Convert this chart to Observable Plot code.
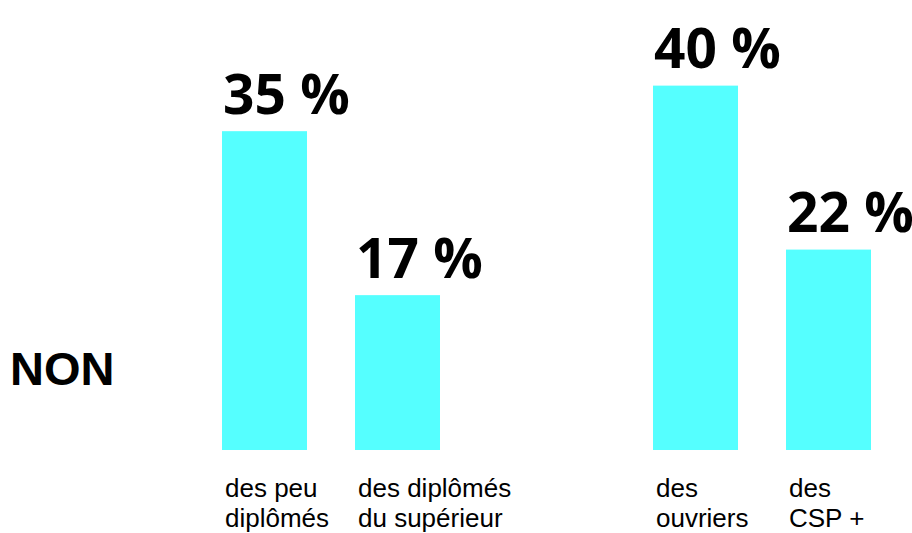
<!DOCTYPE html>
<html>
<head>
<meta charset="utf-8">
<script src="https://cdn.jsdelivr.net/npm/d3@7"></script>
<script src="https://cdn.jsdelivr.net/npm/@observablehq/plot@0.6"></script>
<style>
  html, body { margin: 0; padding: 0; background: #fff; }
  #wrap { position: relative; width: 912px; height: 533px; }
  #non { position: absolute; left: 10px; top: 345px; font: bold 47px "Liberation Sans", Arial, sans-serif; line-height: 47px; color: #000; }
</style>
</head>
<body>
<div id="wrap"><div id="non">NON</div></div>
<script>
const categories = ["des peu\ndiplômés", "des diplômés\ndu supérieur", "des\nouvriers", "des\nCSP +"];
const groups = ["Diplôme", "Diplôme", "CSP", "CSP"];
const positions = ["0", "1", "0", "1"];
const values = [35, 17, 40, 22];
const valueLabels = ["35 %", "17 %", "40 %", "22 %"];

const data = categories.map((c, i) => ({
  category: c, group: groups[i], pos: positions[i], value: values[i], label: valueLabels[i]
}));

const chart = Plot.plot({
  width: 912,
  height: 533,
  marginLeft: 222,
  marginRight: 40,
  marginTop: 0,
  marginBottom: 83,
  fx: { domain: ["Diplôme", "CSP"], paddingInner: 0.4936, paddingOuter: 0, axis: null, label: null },
  x: { domain: ["0", "1"], paddingInner: 0.363, paddingOuter: 0, axis: null, label: null },
  y: { domain: [0, 49.4], axis: null },
  style: { overflow: "visible", background: "transparent" },
  marks: [
    Plot.barY(data, { fx: "group", x: "pos", y: "value", fill: "#55ffff" }),
    Plot.text(data, {
      fx: "group", x: "pos", y: "value", text: "label",
      textAnchor: "start", lineAnchor: "bottom", dx: -42, dy: -18,
      fontSize: 55, fontWeight: "bold", fontFamily: "Open Sans", fill: "#000"
    }),
    Plot.text(data, {
      fx: "group", x: "pos", frameAnchor: "bottom", text: "category",
      textAnchor: "start", lineAnchor: "top", dx: -40, dy: 25,
      fontSize: 26, lineHeight: 1.15, fontFamily: "Liberation Sans", fill: "#000"
    })
  ]
});
document.getElementById("wrap").appendChild(chart);
chart.style.position = "absolute";
chart.style.left = "0";
chart.style.top = "0";
</script>
</body>
</html>
